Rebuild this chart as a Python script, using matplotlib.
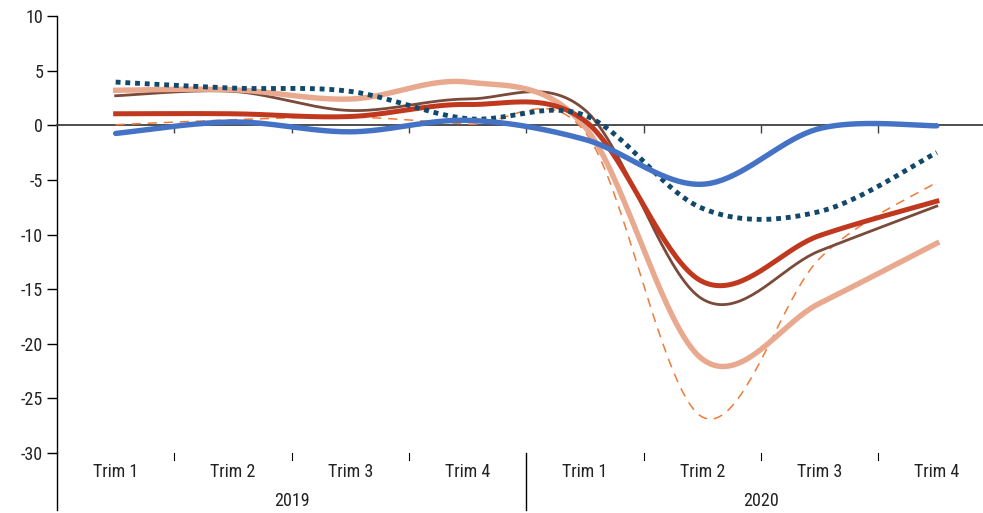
import numpy as np
import matplotlib
matplotlib.use("Agg")
import matplotlib.pyplot as plt
from matplotlib import font_manager
import matplotlib.transforms as mtransforms

# ---- data ----
quarters = ["Trim 1", "Trim 2", "Trim 3", "Trim 4", "Trim 1", "Trim 2", "Trim 3", "Trim 4"]
years = ["2019", "2020"]
blue = [-0.75, 0.3, -0.6, 0.45, -1.3, -5.4, -0.3, -0.05]
navy_dotted = [3.95, 3.4, 3.1, 0.6, 0.9, -7.6, -7.9, -2.5]
salmon = [3.2, 3.25, 2.4, 3.95, -0.15, -21.4, -16.3, -10.8]
brown = [2.7, 3.1, 1.35, 2.4, 1.4, -15.9, -11.5, -7.4]
red = [1.05, 1.05, 0.8, 1.9, 0.4, -14.3, -10.1, -6.95]
orange_dashed = [0.05, 0.5, 0.75, 0.1, -0.6, -26.7, -12.2, -5.2]
yticks = [10, 5, 0, -5, -10, -15, -20, -25, -30]

# ---- fonts ----
avail = {f.name for f in font_manager.fontManager.ttflist}
fam = [f for f in ["Liberation Sans Narrow", "Roboto Condensed", "Liberation Sans", "DejaVu Sans"] if f in avail]
plt.rcParams["font.family"] = fam
plt.rcParams["axes.unicode_minus"] = False


def smooth(vals, n=40):
    p = np.asarray(vals, dtype=float)
    xs = np.arange(len(p), dtype=float)
    pp = np.concatenate([[p[0]], p, [p[-1]]])
    xx = np.concatenate([[xs[0]], xs, [xs[-1]]])
    ox, oy = [], []
    for i in range(len(p) - 1):
        x0, x1 = xs[i], xs[i + 1]
        y0, y1 = p[i], p[i + 1]
        cx1 = x0 + (xx[i + 2] - xx[i]) / 6.0
        cy1 = y0 + (pp[i + 2] - pp[i]) / 6.0
        cx2 = x1 - (xx[i + 3] - xx[i + 1]) / 6.0
        cy2 = y1 - (pp[i + 3] - pp[i + 1]) / 6.0
        t = np.linspace(0, 1, n, endpoint=(i == len(p) - 2))
        b0 = (1 - t) ** 3
        b1 = 3 * (1 - t) ** 2 * t
        b2 = 3 * (1 - t) * t ** 2
        b3 = t ** 3
        ox.append(b0 * x0 + b1 * cx1 + b2 * cx2 + b3 * x1)
        oy.append(b0 * y0 + b1 * cy1 + b2 * cy2 + b3 * y1)
    return np.concatenate(ox), np.concatenate(oy)


W, H = 983, 513
fig = plt.figure(figsize=(W / 100, H / 100), dpi=100)
left_px, right_px, top_px, bot_px = 57, 995.5, 16, 453
ax = fig.add_axes([left_px / W, 1 - bot_px / H, (right_px - left_px) / W, (bot_px - top_px) / H])
ax.set_xlim(-0.5, 7.5)
ax.set_ylim(-30, 10)

series = [
    (orange_dashed, dict(color="#F07A3A", lw=1.1, ls=(0, (6, 4.5)))),
    (brown, dict(color="#7A4A3A", lw=2.0)),
    (salmon, dict(color="#E9A98F", lw=3.9)),
    (red, dict(color="#C0391F", lw=3.6)),
    (navy_dotted, dict(color="#12496B", lw=3.5, ls=(0, (1, 1.0)))),
    (blue, dict(color="#4472C4", lw=3.9, solid_capstyle="round")),
]
for vals, kw in series:
    sx, sy = smooth(vals)
    ax.plot(sx, sy, zorder=3, **kw)

# spines
for s in ["top", "right"]:
    ax.spines[s].set_visible(False)
ax.spines["bottom"].set_position(("data", 0))
ax.spines["bottom"].set_color("#404040")
ax.spines["bottom"].set_linewidth(1.3)
ax.spines["left"].set_color("black")
ax.spines["left"].set_linewidth(1.0)

ax.set_xticks([k + 0.5 for k in range(7)])
ax.set_xticklabels([])
ax.tick_params(axis="x", direction="out", length=6, width=1.0, color="#404040")
ax.set_yticks(yticks)
ax.set_yticklabels([str(v) for v in yticks], fontsize=13, color="#222222")
ax.tick_params(axis="y", direction="out", length=7, width=1.0, color="black", pad=3)

# category axis below plot area
trans = mtransforms.blended_transform_factory(ax.transData, ax.transAxes)
axh = bot_px - top_px
def ay(px_below):
    return -(px_below) / axh

ax.plot([-0.5, -0.5], [0, ay(57)], transform=trans, color="black", lw=1.0, clip_on=False)
for k in range(7):
    xb = k + 0.5
    if k == 3:
        ax.plot([xb, xb], [0, ay(57)], transform=trans, color="black", lw=1.0, clip_on=False)
    else:
        ax.plot([xb, xb], [0, ay(7)], transform=trans, color="black", lw=0.8, clip_on=False)
for i, q in enumerate(quarters):
    ax.text(i, ay(19), q, transform=trans, ha="center", va="center", fontsize=13, color="#222222")
for j, yr in enumerate(years):
    ax.text(1.5 + 4 * j, ay(48), yr, transform=trans, ha="center", va="center", fontsize=13, color="#222222")

fig.savefig("out.png", dpi=100)
